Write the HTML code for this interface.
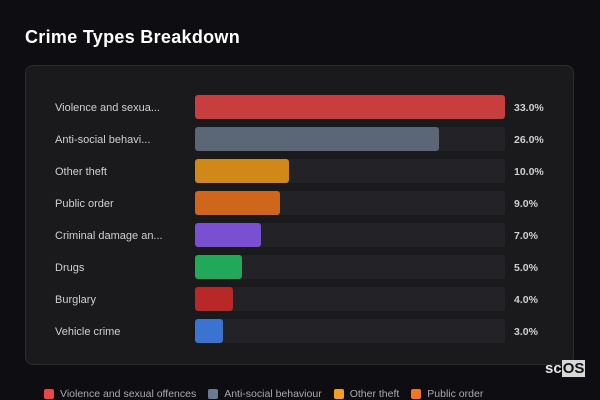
<!DOCTYPE html>
<html><head><meta charset="utf-8"><style>
body{margin:0;width:600px;height:400px;background:#0e0e12;font-family:"Liberation Sans",sans-serif;overflow:hidden;position:relative}
.title{position:absolute;left:25px;top:27px;color:#fff;font-weight:bold;font-size:18px;letter-spacing:0.3px}
.panel{position:absolute;left:25px;top:65px;width:549px;height:300px;background:#1a1a1d;border:1px solid #2c2c30;border-radius:8px;box-sizing:border-box}
.lab{position:absolute;left:55px;color:#d0d0d4;font-size:11px;line-height:14px}
.track{position:absolute;left:195px;width:310px;height:24px;background:#232327;border-radius:3px}
.bar{position:absolute;left:195px;height:24px;border-radius:3px}
.val{position:absolute;left:514px;color:#cfcfd3;font-size:10.5px;font-weight:bold;line-height:14px}
.legend{position:absolute;left:44px;top:388px;display:flex;gap:12px;font-size:10.5px;color:#a8a8b0}
.li{display:flex;align-items:center;gap:6px}
.sw{width:10px;height:10px;border-radius:2px}
.logo{position:absolute;left:545px;top:360px;color:#e8e8e8;font-weight:bold;font-size:15px;line-height:17px}
.logo span{background:#d8d8d8;color:#111;padding:0 1px}
</style></head><body>
<div class="title">Crime Types Breakdown</div>
<div class="panel"></div>
<div id="rows"></div>
<div class="logo">sc<span>OS</span></div>
<div class="legend">
<div class="li"><div class="sw" style="background:#e84848"></div>Violence and sexual offences</div>
<div class="li"><div class="sw" style="background:#6b7a90"></div>Anti-social behaviour</div>
<div class="li"><div class="sw" style="background:#f0a020"></div>Other theft</div>
<div class="li"><div class="sw" style="background:#f07820"></div>Public order</div>
</div>
<script>
const categories=["Violence and sexua...","Anti-social behavi...","Other theft","Public order","Criminal damage an...","Drugs","Burglary","Vehicle crime"];
const values=[33.0,26.0,10.0,9.0,7.0,5.0,4.0,3.0];
const colors=["#c83e3e","#5b6677","#d08818","#d0661c","#7a4fd2","#22a85a","#b82828","#3a74d0"];
const root=document.getElementById('rows');
const maxV=Math.max(...values);
const x=v=>v/maxV*310;
const y=i=>95+i*32;
categories.forEach((c,i)=>{
  const l=document.createElement('div');l.className='lab';l.style.top=(y(i)+6)+'px';l.textContent=c;
  
  
  const t=document.createElement('div');t.className='track';t.style.top=y(i)+'px';
  
  
  const b=document.createElement('div');b.className='bar';b.style.top=y(i)+'px';b.style.width=x(values[i])+'px';b.style.background=colors[i];
  
  
  const v=document.createElement('div');v.className='val';v.style.top=(y(i)+6)+'px';v.textContent=values[i].toFixed(1)+'%';
  
  
  root.append(l,t,b,v);
});
</script>
</body></html>
